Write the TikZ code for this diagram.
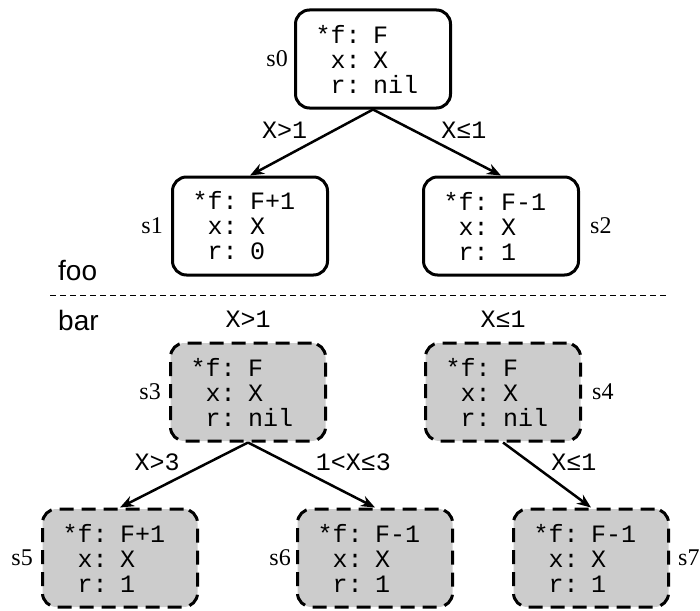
\documentclass[tikz,border=0pt]{standalone}
\usepackage{fontspec}
\setmainfont{Liberation Serif}
\setsansfont{Liberation Sans}
\setmonofont{Liberation Mono}
\usetikzlibrary{arrows.meta,positioning}
\definecolor{boxgrau}{RGB}{204,204,204}

\newcommand{\einr}{\hphantom{*}}

\begin{document}
\begin{tikzpicture}[x=1pt,y=-1pt,
    zustand/.style={draw, line width=3pt, rounded corners=14pt,
      minimum width=155pt, minimum height=98pt, inner xsep=20pt,
      text width=115pt, align=left,
      font={\ttfamily\fontsize{25}{25}\selectfont}},
    neu/.style={zustand, fill=boxgrau, dash pattern=on 14pt off 8pt},
    bez/.style={font={\fontsize{24}{24}\selectfont}, inner sep=2pt},
    bedingung/.style={font={\ttfamily\fontsize{25}{25}\selectfont}, inner sep=3pt},
    teil/.style={font={\sffamily\fontsize{28}{28}\selectfont}, inner sep=0pt, anchor=west},
    pfeil/.style={line width=2.5pt, -{Stealth[length=14pt,width=11pt]}}]

  \useasboundingbox (0,0) rectangle (700,610);

  % oben
  \node[zustand] (s0) at (373,59)  {*f: F\\\einr x: X\\\einr r: nil};
  \node[zustand] (s1) at (250,226) {*f: F+1\\\einr x: X\\\einr r: 0};
  \node[zustand] (s2) at (501,226) {*f: F-1\\\einr x: X\\\einr r: 1};

  \node[bez, left=4pt of s0]  (l0) {s0};
  \node[bez, left=6pt of s1]  (l1) {s1};
  \node[bez, right=8pt of s2] (l2) {s2};

  \draw[pfeil] (s0.south) -- (s1.north) node[bedingung, midway, above left] (c01) {X>1};
  \draw[pfeil] (s0.south) -- (s2.north) node[bedingung, midway, above right] (c02) {X≤1};

  % Trennlinie
  \node[teil] (foo) at (58,271) {foo};
  \node[teil] (bar) at (58,320) {bar};
  \coordinate (tA) at (50,295);
  \coordinate (tB) at (667,295);
  \draw[line width=1pt, dash pattern=on 6pt off 4pt] (tA) -- (tB);

  % unten
  \node[neu] (s3) at (248,392) {*f: F\\\einr x: X\\\einr r: nil};
  \node[neu] (s4) at (503,392) {*f: F\\\einr x: X\\\einr r: nil};
  \node[neu] (s5) at (120,558) {*f: F+1\\\einr x: X\\\einr r: 1};
  \node[neu] (s6) at (375,558) {*f: F-1\\\einr x: X\\\einr r: 1};
  \node[neu] (s7) at (591,558) {*f: F-1\\\einr x: X\\\einr r: 1};

  \node[bez, left=6pt of s3]  (l3) {s3};
  \node[bez, right=8pt of s4] (l4) {s4};
  \node[bez, left=6pt of s5]  (l5) {s5};
  \node[bez, left=3pt of s6]  (l6) {s6};
  \node[bez, right=6pt of s7] (l7) {s7};

  \node[bedingung, above=11pt of s3] (c3) {X>1};
  \node[bedingung, above=11pt of s4] (c4) {X≤1};

  \draw[pfeil] (s3.south) -- (s5.north) node[bedingung, midway, above left] (c35) {X>3};
  \draw[pfeil] (s3.south) -- (s6.north) node[bedingung, midway, above right] (c36) {1<X≤3};
  \draw[pfeil] (s4.south) -- (s7.north) node[bedingung, midway, above right] (c47) {X≤1};
\end{tikzpicture}
\end{document}
